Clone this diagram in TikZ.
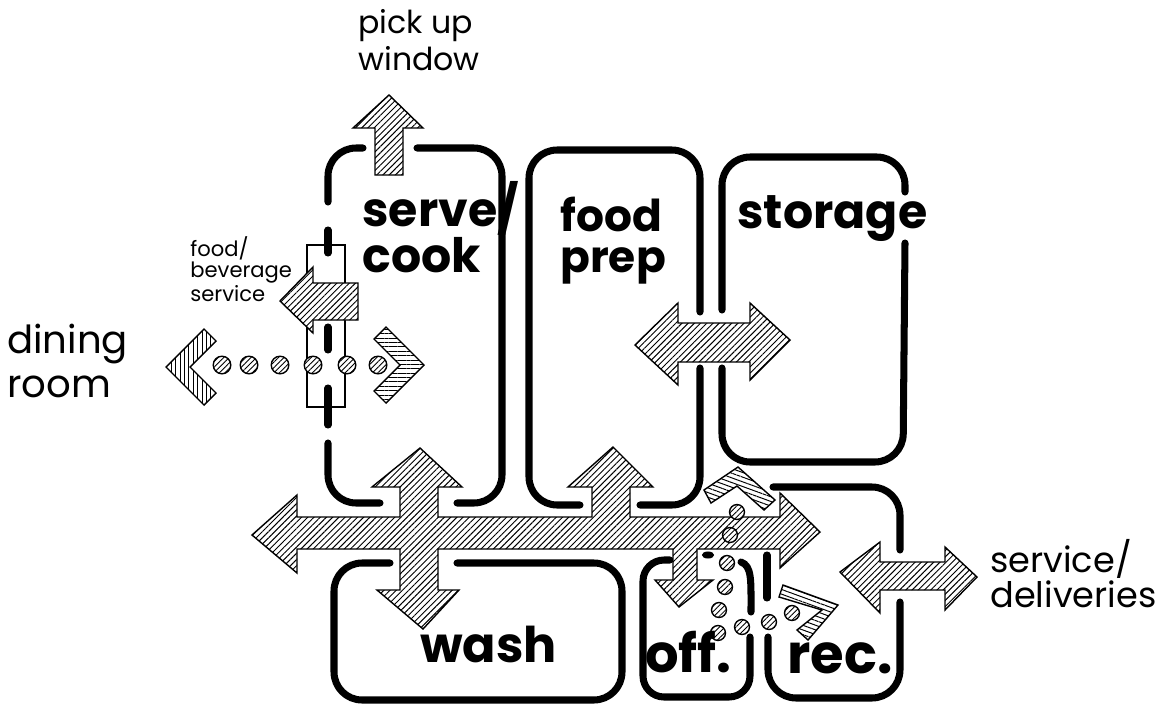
\documentclass[tikz,border=0pt]{standalone}
\usepackage{fontspec}
\setmainfont{Poppins}
\usetikzlibrary{patterns.meta}
\tikzset{
  wall/.style  = {line width=4pt, line cap=round, rounded corners=16pt},
  stub/.style  = {line width=4pt, line cap=round},
  flow/.style  = {draw, line width=0.8pt, line join=miter, preaction={fill=white},
                  pattern={Lines[angle=#1, distance=2.5pt, line width=0.55pt]}},
  flow/.default = 45,
  dot/.style   = {circle, draw, line width=0.8pt, inner sep=0pt, minimum size=#1,
                  preaction={fill=white},
                  pattern={Lines[angle=45, distance=2.2pt, line width=0.5pt]}},
  dot/.default = 10pt,
  room/.style  = {font=\fontsize{27}{23}\selectfont\bfseries, align=left,
                  inner sep=0pt, anchor=base west},
  note/.style  = {font=\fontsize{18}{21}\selectfont, align=left,
                  inner sep=0pt, anchor=base west}
}
\begin{document}
\begin{tikzpicture}[x=0.02cm, y=-0.02cm]
  \useasboundingbox (0,0) rectangle (1164,707);

  % room outlines
  \draw[wall] (328,202) -- (328,148) -- (363,148);
  \draw[wall] (417,148) -- (502,148) -- (502,503) -- (457,503);
  \draw[wall] (380,503) -- (328,503) -- (328,443);
  \draw[wall] (700,312) -- (700,150) -- (529,150) -- (529,505) -- (580,505);
  \draw[wall] (640,505) -- (700,505) -- (700,368);
  \draw[wall] (722,310) -- (722,157) -- (905,157) -- (905,192);
  \draw[wall] (905,243) -- (903,462) -- (722,462) -- (722,368);
  \draw[wall] (390,563) -- (334,563) -- (334,700) -- (622,700) -- (622,563) -- (457,563);
  \draw[wall, rounded corners=12pt] (670,560) -- (643,560) -- (643,697) -- (750,697) -- (750,637);
  \draw[wall] (773,487) -- (900,487) -- (900,550);
  \draw[wall] (900,602) -- (900,698) -- (768,698) -- (768,637);
  \draw[stub] (741,562) .. controls (752,566) and (751,580) .. (751,612);
  \draw[stub] (767,555) -- (767,598);

  % dining room opening
  \draw[line width=0.8pt] (307,245) rectangle (345,407);
  \draw[stub] (328,230) -- (328,253);
  \draw[stub] (328,327) -- (328,350);
  \draw[stub] (328,388) -- (328,425);

  % circulation arrows
  \draw[flow] (375,175) -- (375,128) -- (353,128) -- (389,95) -- (423,128)
    -- (403,128) -- (403,175) -- cycle;
  \draw[flow] (358,283) -- (313,283) -- (313,267) -- (280,301) -- (313,333)
    -- (313,320) -- (358,320) -- cycle;
  \draw[flow] (252,535) -- (297,495) -- (297,517) -- (400,517) -- (400,487)
    -- (372,487) -- (420,448) -- (462,487) -- (438,487) -- (438,517)
    -- (592,517) -- (592,487) -- (568,487) -- (613,447) -- (653,487)
    -- (630,487) -- (630,517) -- (780,517) -- (780,493) -- (820,532)
    -- (780,568) -- (780,549) -- (697,549) -- (697,580) -- (713,580)
    -- (679,607) -- (655,580) -- (673,580) -- (673,549) -- (438,549)
    -- (438,590) -- (459,590) -- (423,629) -- (377,590) -- (400,590)
    -- (400,549) -- (297,549) -- (297,573) -- cycle;
  \draw[flow] (635,345) -- (678,303) -- (678,323) -- (750,323) -- (750,303)
    -- (790,340) -- (750,380) -- (750,362) -- (678,362) -- (678,385) -- cycle;
  \draw[flow] (840,572) -- (880,542) -- (880,562) -- (945,562) -- (945,547)
    -- (977,577) -- (945,610) -- (945,590) -- (880,590) -- (880,613) -- cycle;

  % dining chevrons and dots
  \draw[flow=90] (166,367) -- (204,329) -- (216,341) -- (190,367)
    -- (216,393) -- (204,405) -- cycle;
  \draw[flow=0] (424,365) -- (386,327) -- (374,339) -- (400,365)
    -- (374,391) -- (386,403) -- cycle;
  \foreach \x [count=\i] in {222,249,280,313,347,378}
    \node[dot] (dd\i) at (\x,365) {};

  % office / receiving path
  \draw[flow=-20] (704,490) -- (738,467) -- (775,500) -- (764,510)
    -- (737,486) -- (711,503) -- cycle;
  \draw[flow=-20] (783,585) -- (838,605) -- (808,640) -- (797,630)
    -- (822,610) -- (779,597) -- cycle;
  \foreach \x/\y [count=\i] in {737/512, 730/535, 727/563, 725/587, 719/610,
      718/633, 742/627, 769/622, 792/613}
    \node[dot=8.5pt] (od\i) at (\x,\y) {};
  \fill (708,555) ellipse [x radius=3.5pt, y radius=2pt];

  % labels
  \node (pick)  [note] at (358,70)  {pick up\\window};
  \node (fbs)   [note, font=\fontsize{12}{12}\selectfont] at (190,301) {food/\\beverage\\service};
  \node (dine)  [note, font=\fontsize{22}{25}\selectfont] at (7,397) {dining\\room};
  \node (deliv) [note, font=\fontsize{20}{17}\selectfont] at (990,607) {service/\\deliveries};
  \node (serve) [room] at (362,272) {serve/\\cook};
  \node (prep)  [room, font=\fontsize{25}{23}\selectfont\bfseries] at (560,272) {food\\prep};
  \node (store) [room] at (737,228) {storage};
  \node (wash)  [room, font=\fontsize{28}{28}\selectfont\bfseries] at (420,662) {wash};
  \node (off)   [room, font=\fontsize{30}{30}\selectfont\bfseries] at (645,672) {off.};
  \node (rec)   [room, font=\fontsize{31}{31}\selectfont\bfseries] at (787,673) {rec.};
\end{tikzpicture}
\end{document}
